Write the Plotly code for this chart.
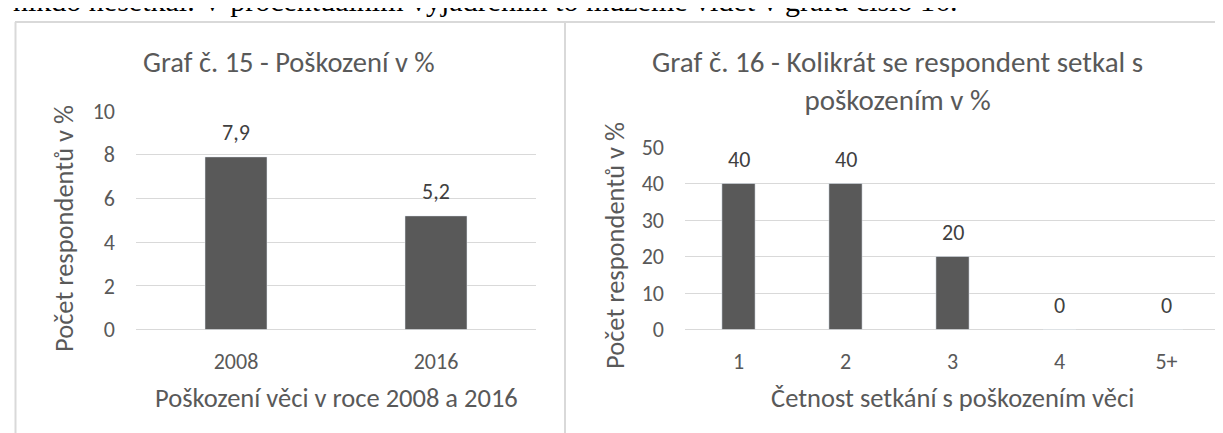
import plotly.graph_objects as go

# ---------------- data ----------------
cats15 = ["2008", "2016"]
vals15 = [7.9, 5.2]
cats16 = ["1", "2", "3", "4", "5+"]
vals16 = [40, 40, 20, 0, 0]
yticks15 = [0, 2, 4, 6, 8, 10]
yticks16 = [0, 10, 20, 30, 40, 50]

title15 = "Graf č. 15 - Poškození v %"
title16 = "Graf č. 16 - Kolikrát se respondent setkal s<br>poškozením v %"
ytitle = "Počet respondentů v %"
xtitle15 = "Poškození věci v roce 2008 a 2016"
xtitle16 = "Četnost setkání s poškozením věci"
top_text = "nikdo nesetkal. V procentuálním vyjádřením to můžeme vidět v grafu číslo 16."

W, H = 1223, 433
FONT = "Calibri, Carlito, Lato, sans-serif"
TXT = "#595959"
LBL = "#404040"
BAR = "#595959"
GRID = "#d9d9d9"


def px(x):
    return x / W


def py(y):
    return (H - y) / H


def lab(v):
    return f"{v:g}".replace(".", ",")


fig = go.Figure()
fig.add_trace(go.Bar(x=cats15, y=vals15, marker_color=BAR, xaxis="x", yaxis="y",
                     hoverinfo="skip", showlegend=False))
fig.add_trace(go.Bar(x=cats16, y=vals16, marker_color=BAR, xaxis="x2", yaxis="y2",
                     hoverinfo="skip", showlegend=False))

ax_common = dict(showline=False, ticks="", tickfont=dict(family=FONT, size=22, color=TXT),
                 fixedrange=True, automargin=False)
fig.update_layout(
    width=W, height=H, margin=dict(l=0, r=0, t=0, b=0, autoexpand=False),
    paper_bgcolor="white", plot_bgcolor="white",
    bargap=0.69, showlegend=False,
    xaxis=dict(domain=[px(128), px(528)], anchor="y", type="category",
               categoryorder="array", categoryarray=cats15, range=[-0.5, len(cats15) - 0.5],
               showgrid=False, zeroline=False, ticklabelstandoff=16, **ax_common),
    yaxis=dict(domain=[py(321.5), py(103)], anchor="x", range=[0, 10],
               tickvals=yticks15, showgrid=True, gridcolor=GRID, gridwidth=1.3,
               zeroline=True, zerolinecolor=GRID, zerolinewidth=1.3,
               ticklabelstandoff=20, **ax_common),
    xaxis2=dict(domain=[px(677), px(1212)], anchor="y2", type="category",
                categoryorder="array", categoryarray=cats16, range=[-0.5, len(cats16) - 0.5],
                showgrid=False, zeroline=False, ticklabelstandoff=16, **ax_common),
    yaxis2=dict(domain=[py(321.5), py(139)], anchor="x2", range=[0, 50],
                tickvals=yticks16, showgrid=True, gridcolor=GRID, gridwidth=1.3,
                zeroline=True, zerolinecolor=GRID, zerolinewidth=1.3,
                ticklabelstandoff=20, **ax_common),
)

ann = []
# data labels (category index positions)
for xr, yr, vals in (("x", "y", vals15), ("x2", "y2", vals16)):
    for i, v in enumerate(vals):
        ann.append(dict(x=i, y=v, xref=xr, yref=yr, text=lab(v), showarrow=False,
                        yanchor="middle", yshift=24,
                        font=dict(family=FONT, size=22, color=LBL)))

# titles
ann.append(dict(x=px(281), y=py(54), xref="paper", yref="paper", text=title15,
                showarrow=False, xanchor="center", yanchor="middle",
                font=dict(family=FONT, size=28.5, color=TXT)))
ann.append(dict(x=px(889), y=py(73), xref="paper", yref="paper", text=title16,
                showarrow=False, xanchor="center", yanchor="middle",
                font=dict(family=FONT, size=29, color=TXT)))
# y-axis titles
ann.append(dict(x=px(56), y=py(221), xref="paper", yref="paper", text=ytitle,
                showarrow=False, textangle=-90, xanchor="center", yanchor="middle",
                font=dict(family=FONT, size=26.5, color=TXT)))
ann.append(dict(x=px(607), y=py(238), xref="paper", yref="paper", text=ytitle,
                showarrow=False, textangle=-90, xanchor="center", yanchor="middle",
                font=dict(family=FONT, size=26.5, color=TXT)))
# x-axis titles
ann.append(dict(x=px(328), y=py(390), xref="paper", yref="paper", text=xtitle15,
                showarrow=False, xanchor="center", yanchor="middle",
                font=dict(family=FONT, size=26.5, color=TXT)))
ann.append(dict(x=px(944), y=py(390), xref="paper", yref="paper", text=xtitle16,
                showarrow=False, xanchor="center", yanchor="middle",
                font=dict(family=FONT, size=26.5, color=TXT)))
# cropped line of body text above the charts
ann.append(dict(x=px(3), y=py(-7), xref="paper", yref="paper", text=top_text,
                showarrow=False, xanchor="left", yanchor="middle",
                font=dict(family="Liberation Serif, Times New Roman, serif", size=30,
                          color="#000000")))
fig.update_layout(annotations=ann)

# panel borders
shapes = [
    dict(type="line", xref="paper", yref="paper", x0=px(7), x1=px(1240), y0=py(14), y1=py(14),
         line=dict(color=GRID, width=2)),
    dict(type="line", xref="paper", yref="paper", x0=px(7.5), x1=px(7.5), y0=py(14), y1=py(450),
         line=dict(color=GRID, width=2)),
    dict(type="line", xref="paper", yref="paper", x0=px(557), x1=px(557), y0=py(14), y1=py(450),
         line=dict(color=GRID, width=2)),
]
fig.update_layout(shapes=shapes)

fig.write_html("out.html")
